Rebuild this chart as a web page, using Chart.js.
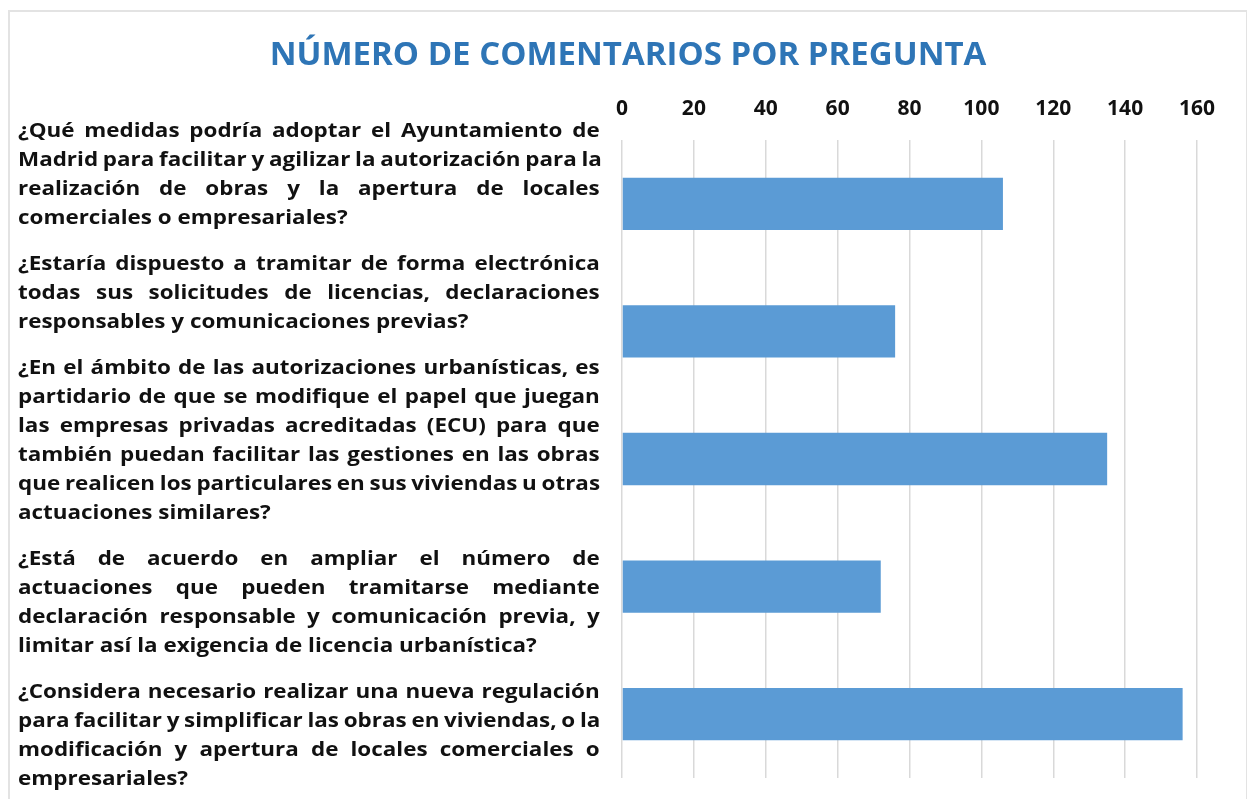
<!DOCTYPE html>
<html lang="es">
<head>
<meta charset="utf-8">
<title>Número de comentarios por pregunta</title>
<script src="https://cdn.jsdelivr.net/npm/chart.js@4.4.1/dist/chart.umd.min.js"></script>
<style>
    html, body { margin: 0; padding: 0; background: #fff; width: 1247px; height: 799px; overflow: hidden; }
    #marco { position: absolute; left: 8px; top: 10px; width: 1236px; height: 820px; border: 2px solid #e3e3e3; }
    #grafico { position: absolute; left: 0; top: 0; }
    /* el texto original es más ancho que Open Sans: se estira en horizontal */
    #preguntas {
        position: absolute; left: 18px; top: 116px; width: 493px;
        transform: scaleX(1.18); transform-origin: left top;
        font-family: "Open Sans", sans-serif; font-weight: 700; font-size: 19px;
        line-height: 29px; color: #111;
    }
    .pregunta { margin-bottom: 17px; }
    .linea { display: flex; justify-content: space-between; column-gap: 4px; white-space: nowrap; }
    .ultima { white-space: nowrap; }
</style>
</head>
<body>
<div id="marco"></div>
<canvas id="grafico" width="1247" height="799"></canvas>
<div id="preguntas"></div>
<script>
// preguntas (cada una partida en sus líneas, como en el original)
const preguntas = [
    ['¿Qué medidas podría adoptar el Ayuntamiento de',
     'Madrid para facilitar y agilizar la autorización para la',
     'realización de obras y la apertura de locales',
     'comerciales o empresariales?'],
    ['¿Estaría dispuesto a tramitar de forma electrónica',
     'todas sus solicitudes de licencias, declaraciones',
     'responsables y comunicaciones previas?'],
    ['¿En el ámbito de las autorizaciones urbanísticas, es',
     'partidario de que se modifique el papel que juegan',
     'las empresas privadas acreditadas (ECU) para que',
     'también puedan facilitar las gestiones en las obras',
     'que realicen los particulares en sus viviendas u otras',
     'actuaciones similares?'],
    ['¿Está de acuerdo en ampliar el número de',
     'actuaciones que pueden tramitarse mediante',
     'declaración responsable y comunicación previa, y',
     'limitar así la exigencia de licencia urbanística?'],
    ['¿Considera necesario realizar una nueva regulación',
     'para facilitar y simplificar las obras en viviendas, o la',
     'modificación y apertura de locales comerciales o',
     'empresariales?']
];
const comentarios = [106, 76, 135, 72, 156];
const ejeMin = 0;
const ejeMax = 160;
const ejePaso = 20;

const colorBarra = '#5b9bd5';
const colorTitulo = '#2e75b6';
const colorTexto = '#111';

document.addEventListener('DOMContentLoaded', function() {
    // texto justificado a la izquierda del gráfico
    const contenedor = document.getElementById('preguntas');
    preguntas.forEach(lineas => {
        const bloque = document.createElement('div');
        bloque.className = 'pregunta';
        lineas.forEach((linea, i) => {
            const d = document.createElement('div');
            if (i === lineas.length - 1) {
                d.className = 'ultima';
                d.textContent = linea;
            } else {
                d.className = 'linea';
                linea.split(' ').forEach(palabra => {
                    const s = document.createElement('span');
                    s.textContent = palabra;
                    d.appendChild(s);
                });
            }
            bloque.appendChild(d);
        });
        contenedor.appendChild(bloque);
    });

    const ctx = document.getElementById('grafico').getContext('2d');
    new Chart(ctx, {
        type: 'bar',
        data: {
            labels: preguntas.map(l => l.join(' ')),
            datasets: [{
                label: 'Comentarios',
                data: comentarios,
                backgroundColor: colorBarra,
                borderWidth: 0,
                categoryPercentage: 1,
                barPercentage: 0.41
            }]
        },
        options: {
            indexAxis: 'y',
            responsive: false,
            animation: false,
            devicePixelRatio: 1,
            layout: { padding: { left: 59, right: 50, top: 0, bottom: 21 } },
            plugins: {
                legend: { display: false },
                tooltip: { enabled: false },
                title: {
                    display: true,
                    text: 'NÚMERO DE COMENTARIOS POR PREGUNTA',
                    color: colorTitulo,
                    font: { family: 'Open Sans', size: 33, weight: 'bold', lineHeight: 1.2 },
                    padding: { top: 36, bottom: 0 }
                }
            },
            scales: {
                x: {
                    position: 'top',
                    min: ejeMin,
                    max: ejeMax,
                    ticks: {
                        stepSize: ejePaso,
                        color: colorTexto,
                        padding: 18,
                        font: { family: 'Open Sans', size: 21, weight: 'bold', lineHeight: 1.2 }
                    },
                    grid: { color: '#d9d9d9', lineWidth: 1.5, drawTicks: false },
                    border: { display: false },
                    afterFit: scale => { scale.height = 64.4; }
                },
                y: {
                    ticks: { display: false },
                    grid: { display: false },
                    border: { display: false },
                    afterFit: scale => { scale.width = 563; }
                }
            }
        }
    });
});
</script>
</body>
</html>
